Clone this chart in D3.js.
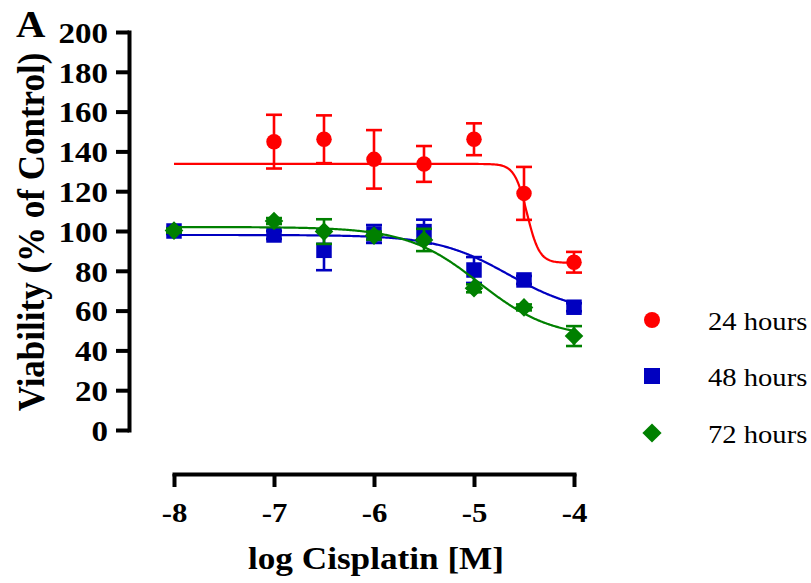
<!DOCTYPE html>
<html>
<head>
<meta charset="utf-8">
<script src="https://cdn.jsdelivr.net/npm/d3@7"></script>
<style>
  body { margin: 0; background: #fff; }
</style>
</head>
<body>
<svg id="chart" width="811" height="583"></svg>
<script>
// log concentrations and mean viability (% of control) with SEM
var seriesNames = ["24 hours", "48 hours", "72 hours"];
var seriesColors = ["#ff0000", "#0000c0", "#008000"];
var seriesShapes = ["circle", "square", "diamond"];

var x24 = [-7, -6.5, -6, -5.5, -5, -4.5, -4];
var y24 = [144.9, 146.1, 136.0, 133.7, 146.1, 118.9, 84.3];
var e24 = [13.5, 12.0, 14.7, 9.0, 8.0, 13.3, 5.2];

var x48 = [-8, -7, -6.5, -6, -5.5, -5, -4.5, -4];
var y48 = [100.0, 98.0, 90.3, 98.5, 99.7, 80.4, 75.4, 61.7];
var e48 = [1.5, 2.0, 10.0, 4.5, 6.0, 6.5, 2.0, 2.0];

var x72 = [-8, -7, -6.5, -6, -5.5, -5, -4.5, -4];
var y72 = [100.2, 105.0, 99.7, 97.7, 95.5, 71.2, 61.6, 47.2];
var e72 = [1.0, 1.5, 6.2, 2.0, 5.6, 2.0, 1.5, 5.0];

// sigmoidal dose-response fit parameters (top, bottom, logIC50, hill)
var fitTop = [133.7, 98.0, 102.0];
var fitBottom = [84.0, 58.0, 46.0];
var fitLogIC50 = [-4.47, -4.65, -4.95];
var fitHill = [7.0, 1.2, 1.2];

var xTicks = [-8, -7, -6, -5, -4];
var yTicks = [0, 20, 40, 60, 80, 100, 120, 140, 160, 180, 200];

var xs = [x24, x48, x72], ys = [y24, y48, y72], es = [e24, e48, e72];

var serif = "'Liberation Serif'";
var svg = d3.select("#chart");
var stretch = 1.1;

var x = d3.scaleLinear().domain([-8, -4]).range([174, 574]);
var y = d3.scaleLinear().domain([0, 200]).range([430, 32]);

// y axis
var yAxis = svg.append("g")
    .attr("transform", "translate(129,0)")
    .call(d3.axisLeft(y).tickValues(yTicks).tickSize(13).tickSizeOuter(0));
yAxis.attr("font-family", serif).attr("font-size", null);
yAxis.select(".domain").attr("stroke-width", 4).attr("stroke-linecap", "square");
yAxis.selectAll(".tick line").attr("stroke-width", 4);
yAxis.selectAll(".tick text")
    .attr("x", -21 / stretch)
    .attr("transform", "scale(" + stretch + ",1)")
    .attr("dy", "0.34em")
    .style("font-family", serif)
    .style("font-size", "30px")
    .style("font-weight", "bold")
    .attr("fill", "#000");

// x axis
var xAxis = svg.append("g")
    .attr("transform", "translate(0,474)")
    .call(d3.axisBottom(x).tickValues(xTicks).tickSize(13).tickSizeOuter(0)
      .tickFormat(function(d) { return "-" + Math.abs(d); }));
xAxis.attr("font-family", serif).attr("font-size", null);
xAxis.select(".domain").attr("stroke-width", 4).attr("stroke-linecap", "square");
xAxis.selectAll(".tick line").attr("stroke-width", 4);
xAxis.selectAll(".tick text")
    .attr("transform", "scale(" + stretch + ",1)")
    .attr("x", 0)
    .attr("y", 48)
    .attr("dy", 0)
    .style("font-family", serif)
    .style("font-size", "28px")
    .style("font-weight", "bold")
    .attr("fill", "#000");

// axis titles
svg.append("text")
    .attr("transform", "translate(44,232) scale(" + stretch + ",1) rotate(-90)")
    .attr("text-anchor", "middle")
    .style("font-family", serif)
    .style("font-size", "35px")
    .style("font-weight", "bold")
    .text("Viability (% of Control)");

svg.append("text")
    .attr("transform", "translate(376,569) scale(" + stretch + ",1)")
    .attr("text-anchor", "middle")
    .style("font-family", serif)
    .style("font-size", "32px")
    .style("font-weight", "bold")
    .text("log Cisplatin [M]");

svg.append("text")
    .attr("transform", "translate(16,37) scale(" + stretch + ",1)")
    .style("font-family", serif)
    .style("font-size", "37px")
    .style("font-weight", "bold")
    .text("A");

function marker(g, shape, color, s) {
  if (shape == "circle") {
    g.append("circle").attr("r", s * 0.5).attr("fill", color);
  } else if (shape == "square") {
    g.append("rect").attr("x", -s / 2).attr("y", -s / 2)
      .attr("width", s).attr("height", s).attr("fill", color);
  } else {
    var h = s * 0.6;
    g.append("path").attr("d", "M0," + (-h) + "L" + h + ",0L0," + h + "L" + (-h) + ",0Z")
      .attr("fill", color);
  }
}

var line = d3.line()
    .x(function(d) { return x(d[0]); })
    .y(function(d) { return y(d[1]); });

seriesNames.forEach(function(name, i) {
  var color = seriesColors[i];
  var pts = xs[i].map(function(v, j) { return { x: v, y: ys[i][j], e: es[i][j] }; });
  var g = svg.append("g");

  // error bars
  var eb = g.selectAll(".err").data(pts).enter().append("g")
      .attr("stroke", color).attr("stroke-width", 2.6);
  eb.append("line")
      .attr("x1", function(d) { return x(d.x); }).attr("x2", function(d) { return x(d.x); })
      .attr("y1", function(d) { return y(d.y + d.e); }).attr("y2", function(d) { return y(d.y - d.e); });
  eb.append("line")
      .attr("x1", function(d) { return x(d.x) - 8; }).attr("x2", function(d) { return x(d.x) + 8; })
      .attr("y1", function(d) { return y(d.y + d.e); }).attr("y2", function(d) { return y(d.y + d.e); });
  eb.append("line")
      .attr("x1", function(d) { return x(d.x) - 8; }).attr("x2", function(d) { return x(d.x) + 8; })
      .attr("y1", function(d) { return y(d.y - d.e); }).attr("y2", function(d) { return y(d.y - d.e); });

  // fitted curve
  var fit = d3.range(-8, -3.999, 0.01).map(function(lx) {
    return [lx, fitBottom[i] + (fitTop[i] - fitBottom[i]) / (1 + Math.pow(10, (lx - fitLogIC50[i]) * fitHill[i]))];
  });
  g.append("path").datum(fit)
      .attr("d", line)
      .attr("fill", "none")
      .attr("stroke", color)
      .attr("stroke-width", 2.2);

  // points
  g.selectAll(".pt").data(pts).enter().append("g")
      .attr("transform", function(d) { return "translate(" + x(d.x) + "," + y(d.y) + ")"; })
      .each(function() { marker(d3.select(this), seriesShapes[i], color, 15.5); });

  // legend
  var ly = [320, 376, 433][i];
  var lg = svg.append("g").attr("transform", "translate(652," + ly + ")");
  marker(lg, seriesShapes[i], color, 16);
  svg.append("text")
      .attr("transform", "translate(708," + (ly + 10) + ") scale(" + stretch + ",1)")
      .style("font-family", serif)
      .style("font-size", "26px")
      .text(name);
});
</script>
</body>
</html>
